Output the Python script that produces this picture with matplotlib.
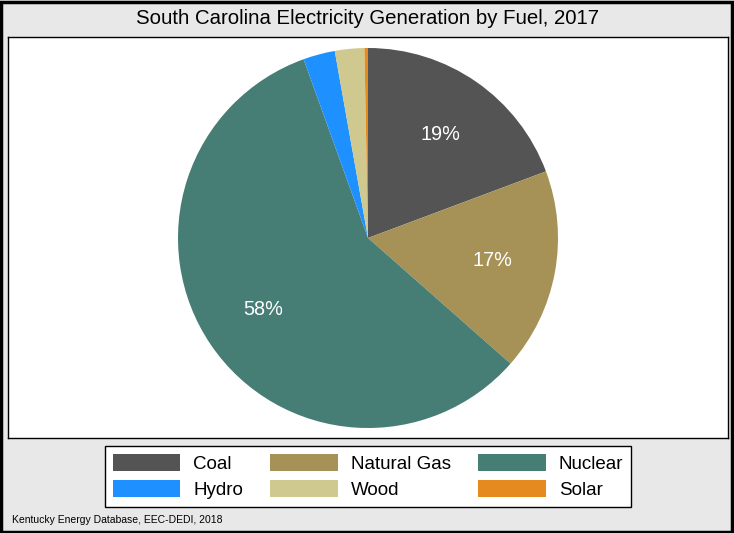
import matplotlib.pyplot as plt
from matplotlib.patches import Rectangle, Patch

plt.rcParams['font.family'] = ['Liberation Sans', 'DejaVu Sans']

# 2017 generation shares by fuel (percent)
fuels = ['Coal', 'Natural Gas', 'Nuclear', 'Hydro', 'Wood', 'Solar']
shares = [19.3, 17.2, 58.0, 2.7, 2.5, 0.3]
colors = ['#545454', '#a69157', '#467d74', '#1e90ff', '#cfc98f', '#e58a1f']

W, H = 734, 533
fig = plt.figure(figsize=(W / 100, H / 100), dpi=100)
fig.patch.set_facecolor('#e8e8e8')


def px_axes(x0, y0, x1, y1):
    # axes from pixel box measured from the top-left corner
    return fig.add_axes([x0 / W, 1 - y1 / H, (x1 - x0) / W, (y1 - y0) / H])


# outer frame
fig.patches.append(Rectangle((0.002, 0.002), 0.995, 0.994, transform=fig.transFigure,
                             fill=False, edgecolor='black', linewidth=2.5))

# white plot panel
panel = px_axes(8, 37, 728, 438)
panel.set_facecolor('white')
panel.set_xticks([])
panel.set_yticks([])
for s in panel.spines.values():
    s.set_linewidth(1.0)
    s.set_color('black')

fig.text(368 / W, 1 - 19 / H, 'South Carolina Electricity Generation by Fuel, 2017',
         ha='center', va='center', fontsize=14.7)

ax = px_axes(178, 48, 558, 428)


def pct(v):
    return f'{v:.0f}%' if v >= 5 else ''


ax.pie(shares, colors=colors, startangle=90, counterclock=False, radius=1,
       autopct=pct, pctdistance=0.665,
       textprops=dict(color='white', fontsize=14.3),
       wedgeprops=dict(linewidth=0))
ax.set_xlim(-1, 1)
ax.set_ylim(-1, 1)
ax.axis('off')

# legend fills column by column, so reorder to read across rows
order = [0, 3, 1, 4, 2, 5]
handles = [Patch(facecolor=colors[i], edgecolor='none') for i in order]
labels = [fuels[i] for i in order]
leg = fig.legend(handles, labels, ncol=3, loc='center', bbox_to_anchor=(368 / W, 1 - 476.5 / H),
                 fontsize=13.5, frameon=True, fancybox=False, edgecolor='black', framealpha=1,
                 handlelength=3.6, handleheight=1.0, handletextpad=0.7,
                 columnspacing=1.45, labelspacing=0.36, borderpad=0.42)
leg.get_frame().set_linewidth(1.0)
leg.get_frame().set_facecolor('white')

fig.text(12 / W, 1 - 520 / H, 'Kentucky Energy Database, EEC-DEDI, 2018',
         ha='left', va='center', fontsize=7.5)

fig.savefig('out.png', dpi=100, facecolor=fig.get_facecolor())
